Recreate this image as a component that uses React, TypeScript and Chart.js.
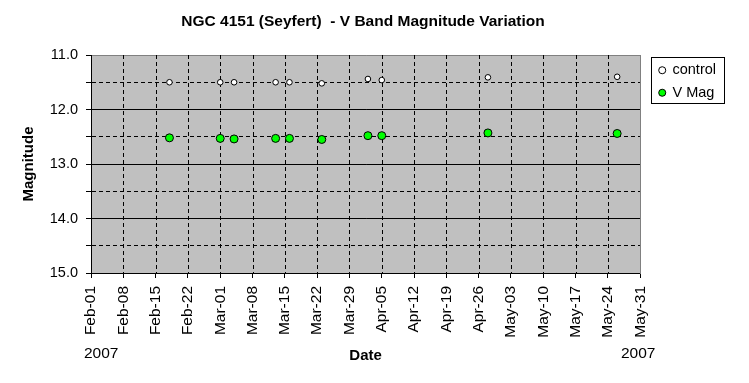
import React, { useEffect, useRef } from 'react';
import { Chart, registerables } from 'chart.js';

Chart.register(...registerables);

// ---- data ----
const startDate = '2007-02-01';
const obsDates = [
  '2007-02-18', '2007-03-01', '2007-03-04', '2007-03-13', '2007-03-16',
  '2007-03-23', '2007-04-02', '2007-04-05', '2007-04-28', '2007-05-26',
];
const controlMag = [11.5, 11.5, 11.5, 11.5, 11.5, 11.52, 11.44, 11.46, 11.41, 11.4];
const vMag = [12.52, 12.53, 12.54, 12.53, 12.53, 12.55, 12.48, 12.48, 12.43, 12.44];
const xTickLabels = [
  'Feb-01', 'Feb-08', 'Feb-15', 'Feb-22', 'Mar-01', 'Mar-08', 'Mar-15', 'Mar-22',
  'Mar-29', 'Apr-05', 'Apr-12', 'Apr-19', 'Apr-26', 'May-03', 'May-10', 'May-17',
  'May-24', 'May-31',
];
const yTickStep = 0.5;
const yMin = 11;
const yMax = 15;
const xStepDays = 7;
const yearText = '2007';
const titleText = 'NGC 4151 (Seyfert)  - V Band Magnitude Variation';
const xTitle = 'Date';
const yTitle = 'Magnitude';
const seriesNames = ['control', 'V Mag'];

const FONT = "'Liberation Sans', Arial, sans-serif";
const xMax = (xTickLabels.length - 1) * xStepDays;

function dayOffset(d: string): number {
  return Math.round((Date.parse(d) - Date.parse(startDate)) / 86400000);
}

const plotBg = {
  id: 'plotBg',
  beforeDraw(chart: any) {
    const { ctx, chartArea: a } = chart;
    ctx.save();
    ctx.fillStyle = '#c0c0c0';
    ctx.fillRect(a.left, a.top, a.right - a.left, a.bottom - a.top);
    ctx.restore();
  },
};

// dashed vertical grid lines at each x tick (through the x scale)
const xDashedGrid = {
  id: 'xDashedGrid',
  beforeDatasetsDraw(chart: any) {
    const { ctx, chartArea: a } = chart;
    const xs = chart.scales.x;
    ctx.save();
    ctx.strokeStyle = '#000';
    ctx.lineWidth = 1;
    ctx.setLineDash([4, 3]);
    xs.ticks.forEach((t: any) => {
      if (t.value <= 0 || t.value >= xMax) return;
      const px = Math.round(xs.getPixelForValue(t.value)) + 0.5;
      ctx.beginPath();
      ctx.moveTo(px, a.top);
      ctx.lineTo(px, a.bottom);
      ctx.stroke();
    });
    ctx.restore();
  },
};

const extras = {
  id: 'extras',
  afterDraw(chart: any) {
    const { ctx } = chart;
    const lg = chart.legend;
    const hb = lg && lg.legendHitBoxes;
    ctx.save();
    if (lg && hb && hb.length) {
      const last = hb[hb.length - 1];
      const left = Math.round(lg.left) + 0.5;
      const top = Math.round(lg.top + 2) + 0.5;
      const right = Math.round(lg.right - 2) + 0.5;
      const bottom = Math.round(last.top + last.height + 3) + 0.5;
      ctx.strokeStyle = '#000';
      ctx.lineWidth = 1;
      ctx.strokeRect(left, top, right - left, bottom - top);
    }
    const xs = chart.scales.x;
    ctx.fillStyle = '#000';
    ctx.font = `15.5px ${FONT}`;
    ctx.textBaseline = 'middle';
    ctx.textAlign = 'left';
    ctx.fillText(yearText, xs.left - 7, 354);
    ctx.textAlign = 'center';
    ctx.fillText(yearText, xs.right - 2, 354);
    ctx.restore();
  },
};

export default function App() {
  const ref = useRef<HTMLCanvasElement | null>(null);

  useEffect(() => {
    if (!ref.current) return;
    const xs = obsDates.map(dayOffset);
    const chart = new Chart(ref.current, {
      type: 'scatter',
      data: {
        datasets: [
          {
            label: seriesNames[0],
            data: xs.map((x, i) => ({ x, y: controlMag[i] })),
            pointStyle: 'circle',
            pointRadius: 2.8,
            pointBorderWidth: 1,
            pointBackgroundColor: '#ffffff',
            pointBorderColor: '#000000',
            backgroundColor: '#ffffff',
            borderColor: '#000000',
            showLine: false,
          },
          {
            label: seriesNames[1],
            data: xs.map((x, i) => ({ x, y: vMag[i] })),
            pointStyle: 'circle',
            pointRadius: 4,
            pointBorderWidth: 1,
            pointBackgroundColor: '#00ff00',
            pointBorderColor: '#000000',
            backgroundColor: '#00ff00',
            borderColor: '#000000',
            showLine: false,
          },
        ],
      },
      options: {
        responsive: false,
        animation: false,
        events: [],
        layout: { padding: { left: 0, right: 23, top: 0, bottom: 0 } },
        plugins: {
          tooltip: { enabled: false },
          title: {
            display: true,
            text: titleText,
            color: '#000',
            font: { family: FONT, size: 15.5, weight: 'bold', lineHeight: 1.2 },
            padding: { top: 12.7, bottom: 23.7 },
          },
          legend: {
            display: true,
            position: 'right',
            align: 'start',
            fullSize: false,
            labels: {
              usePointStyle: true,
              boxWidth: 6,
              boxHeight: 5,
              padding: 8,
              color: '#000',
              font: { family: FONT, size: 14.5, lineHeight: 16 / 14.5 },
            },
          },
        },
        scales: {
          x: {
            type: 'linear',
            position: 'bottom',
            min: 0,
            max: xMax,
            afterFit(scale: any) {
              scale.height = 110;
            },
            ticks: {
              stepSize: xStepDays,
              autoSkip: false,
              maxRotation: 90,
              minRotation: 90,
              padding: 8,
              color: '#000',
              font: { family: FONT, size: 15.5 },
              callback: (v: any) => xTickLabels[Math.round(Number(v) / xStepDays)] ?? '',
            },
            grid: {
              display: true,
              drawOnChartArea: false,
              drawTicks: true,
              tickLength: 5,
              tickColor: '#000',
              tickWidth: 1,
              lineWidth: 1,
              color: '#000000',
            },
            border: { display: true, color: '#000', width: 1 },
            title: {
              display: true,
              text: xTitle,
              color: '#000',
              font: { family: FONT, size: 15, weight: 'bold', lineHeight: 1.2 },
              padding: { top: 4, bottom: 18 },
            },
          },
          y: {
            type: 'linear',
            position: 'left',
            min: yMin,
            max: yMax,
            reverse: true,
            afterFit(scale: any) {
              scale.width = 91;
            },
            ticks: {
              stepSize: yTickStep,
              autoSkip: false,
              padding: 8,
              color: '#000',
              font: { family: FONT, size: 14.5 },
              callback: (v: any) => (Number(v) % 1 === 0 ? Number(v).toFixed(1) : ''),
            },
            grid: {
              display: true,
              drawTicks: true,
              tickLength: 5,
              tickColor: '#000',
              tickWidth: 1,
              lineWidth: 1,
              color: (ctx: any) =>
                ctx.tick && ctx.tick.value === yMin ? '#808080' : '#000000',
            },
            border: {
              display: true,
              color: '#000',
              width: 1,
              dash: (ctx: any) =>
                ctx.tick && Math.abs(ctx.tick.value % 1) > 1e-6 ? [4, 3] : [],
            },
            title: {
              display: true,
              text: yTitle,
              color: '#000',
              font: { family: FONT, size: 15, weight: 'bold', lineHeight: 1.2 },
              padding: { top: 20, bottom: 0 },
            },
          },
          y2: {
            type: 'linear',
            position: 'right',
            display: true,
            min: yMin,
            max: yMax,
            afterFit(scale: any) {
              scale.width = 11;
            },
            ticks: { display: false },
            grid: { display: false, drawOnChartArea: false, drawTicks: false },
            border: { display: true, color: '#808080', width: 1 },
          },
        },
      },
      plugins: [plotBg, xDashedGrid, extras],
    } as any);
    return () => chart.destroy();
  }, []);

  return (
    <div style={{ position: 'absolute', left: 0, top: 0, width: 749, height: 383, background: '#fff' }}>
      <canvas ref={ref} width={749} height={383} style={{ display: 'block', width: 749, height: 383 }} />
    </div>
  );
}
